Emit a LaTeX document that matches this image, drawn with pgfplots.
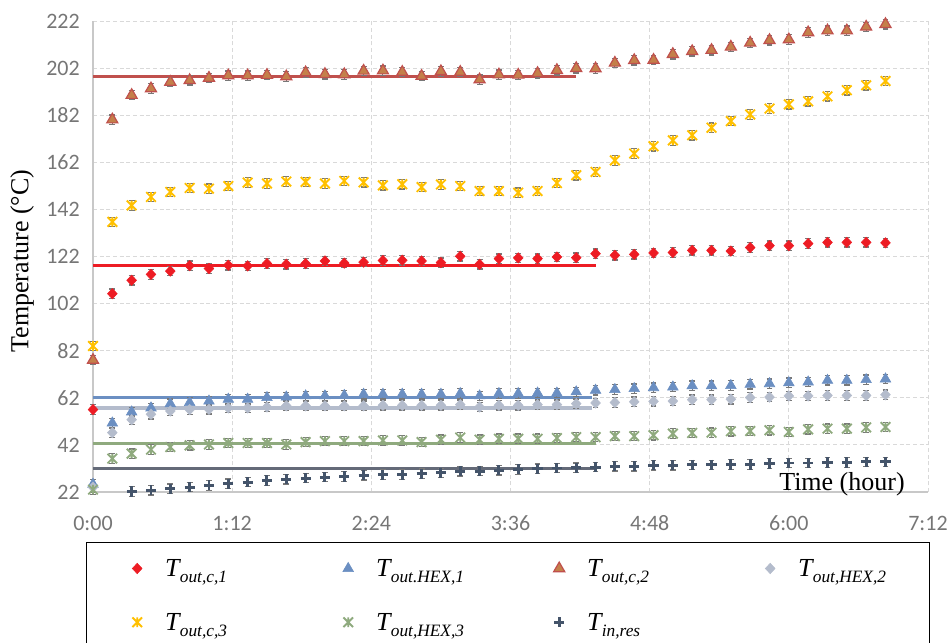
\documentclass[border=0pt]{standalone}
\usepackage{pgfplots}
\pgfplotsset{compat=1.18}
\usepackage{pgfplotstable}
\usepackage{fontspec}
\setmainfont{Liberation Serif}
\newfontfamily\carlito{Carlito}

\definecolor{cRed}{RGB}{237,28,36}
\definecolor{cBlue}{RGB}{107,143,194}
\definecolor{cBrownFill}{RGB}{196,128,74}
\definecolor{cBrownLine}{RGB}{192,80,77}
\definecolor{cGray}{RGB}{180,188,204}
\definecolor{cYellow}{RGB}{255,192,0}
\definecolor{cGreen}{RGB}{143,170,126}
\definecolor{cNavy}{RGB}{68,84,106}
\definecolor{cNavyLine}{RGB}{100,106,120}
\definecolor{gridgray}{RGB}{217,217,217}
\definecolor{axisgray}{RGB}{200,200,200}
\definecolor{tickgray}{RGB}{118,118,118}
\definecolor{ebgray}{RGB}{120,120,120}

\pgfdeclareplotmark{xstar}{%
  \pgfpathmoveto{\pgfqpoint{-\pgfplotmarksize}{-\pgfplotmarksize}}%
  \pgfpathlineto{\pgfqpoint{\pgfplotmarksize}{\pgfplotmarksize}}%
  \pgfpathmoveto{\pgfqpoint{-\pgfplotmarksize}{\pgfplotmarksize}}%
  \pgfpathlineto{\pgfqpoint{\pgfplotmarksize}{-\pgfplotmarksize}}%
  \pgfpathmoveto{\pgfqpoint{0pt}{-\pgfplotmarksize}}%
  \pgfpathlineto{\pgfqpoint{0pt}{\pgfplotmarksize}}%
  \pgfusepathqstroke}

\pgfplotstableread{
t   c1     hex1  c2     hex2  c3     hex3  inres
0   57.0   25.3  78.0   24.0  84.0   23.0  nan
10  106.2  51.3  180.1  47.2  136.7  36.2  nan
20  111.9  56.0  190.5  52.7  143.7  38.3  22.2
30  114.4  57.7  193.3  55.0  147.3  40.0  22.7
40  115.8  59.5  196.1  56.4  149.4  41.1  23.4
50  118.1  60.0  196.8  57.0  151.1  41.8  24.1
60  116.9  60.6  197.8  57.1  150.8  42.2  24.8
70  118.3  61.4  198.8  57.7  151.9  42.8  25.5
80  118.0  61.4  198.8  57.7  153.4  42.8  26.2
90  119.0  62.1  199.0  58.1  153.0  42.8  26.9
100 118.7  62.3  198.4  58.6  153.8  42.2  27.4
110 119.0  62.8  200.1  58.6  153.7  43.2  27.9
120 120.1  62.8  199.4  58.6  153.0  43.6  28.3
130 119.2  63.0  199.3  58.6  154.1  43.6  28.6
140 119.6  63.5  200.8  58.6  153.5  43.6  29.1
150 120.3  63.5  200.9  58.8  152.2  43.9  29.4
160 120.4  63.5  200.3  58.8  152.7  43.9  29.4
170 120.1  63.5  198.6  58.8  151.5  43.2  29.8
180 119.4  63.5  200.6  58.8  152.6  44.2  30.1
190 122.1  63.8  200.3  59.1  151.9  45.1  30.8
200 118.7  62.8  197.1  58.1  149.8  44.2  30.9
210 121.1  63.8  199.2  58.8  149.8  44.6  31.2
220 121.4  63.8  199.1  58.8  149.1  44.6  31.6
230 121.1  64.0  199.8  59.1  149.8  44.6  31.9
240 121.8  64.0  201.1  59.1  153.2  44.9  32.2
250 121.5  64.5  201.9  59.5  156.5  45.3  32.3
260 123.2  65.2  201.8  59.8  157.9  45.3  32.6
270 122.5  65.5  204.2  60.0  162.8  45.7  32.9
280 122.9  65.9  205.3  60.3  165.7  45.7  32.9
290 123.5  66.3  205.4  60.5  168.8  46.1  33.3
300 123.7  66.6  207.9  60.6  171.3  46.8  33.3
310 124.6  67.1  209.1  61.2  173.5  47.1  33.5
320 124.6  67.1  209.6  61.2  176.7  47.2  33.5
330 124.3  67.2  211.0  61.4  179.5  47.8  33.7
340 125.8  67.7  212.7  62.1  182.3  47.9  33.7
350 126.6  68.0  213.8  62.3  184.8  48.2  34.1
360 126.6  68.4  214.1  62.8  186.6  47.5  34.3
370 127.5  68.7  217.1  62.8  187.9  48.6  34.3
380 128.0  69.4  217.9  63.0  190.0  48.9  34.5
390 128.0  69.4  217.9  63.0  192.6  48.9  34.5
400 128.0  69.7  219.5  63.0  194.7  49.4  34.8
410 127.8  70.0  220.6  63.3  196.5  49.6  34.8
}\data

\pgfplotsset{
  eb/.style={error bars/.cd, y dir=both, y fixed=2,
    error bar style={color=ebgray, line width=0.7pt},
    error mark options={rotate=90, mark size=2.2pt, color=ebgray, line width=0.9pt}},
}

\newcommand{\LT}[2]{\makebox[#1][l]{\textit{T}\kern-1pt\raisebox{-4.5pt}{\fontsize{13}{13}\selectfont\textit{#2}}}}

\begin{document}
\begin{tikzpicture}
\useasboundingbox (0,0) rectangle (714pt,481.5pt);
\begin{axis}[
  at={(69.75pt,112.5pt)}, anchor=south west,
  scale only axis, width=626.25pt, height=353.25pt,
  xmin=0, xmax=432, ymin=22, ymax=222,
  xtick={0,72,...,432},
  xticklabels={0:00,1:12,2:24,3:36,4:48,6:00,7:12},
  ytick={22,42,...,222},
  axis x line*=bottom, axis y line*=left,
  axis line style={draw=axisgray, line width=1.2pt, -},
  major tick length=0pt,
  grid=major,
  grid style={draw=gridgray, dash pattern=on 3pt off 2pt, line width=0.7pt},
  ticklabel style={font=\carlito\fontsize{16.5}{18}\selectfont, text=tickgray},
  /pgf/number format/assume math mode=true,
  yticklabel style={anchor=east, inner sep=0pt, xshift=-9.75pt},
  xticklabel style={anchor=base, inner sep=0pt, yshift=-28.5pt},
  xlabel={Time (hour)},
  xlabel style={at={(axis description cs:0.897,0)}, anchor=base, inner sep=0pt, yshift=1pt, font=\fontsize{19.5}{22}\selectfont},
  ylabel={Temperature (°C)},
  ylabel style={at={(axis description cs:-0.085,0.49)}, anchor=center, inner sep=0pt, font=\fontsize{19.5}{22}\selectfont},
  clip=false,
  legend columns=4,
  legend image code/.code={\path[draw=none, fill=none] (-21pt,-14.6pt) rectangle (21pt,25.7pt); \draw[#1] plot coordinates {(0pt,6pt)};},
  legend style={at={(axis description cs:-0.00838,-0.1055)}, anchor=north west,
    draw=black, line width=0.8pt, fill=white,
    inner xsep=17pt, inner ysep=0pt,
    /tikz/column sep=0pt, /tikz/row sep=0pt,
    nodes={inner sep=0pt, anchor=base west},
    font=\fontsize{19.5}{22}\selectfont},
]
% average lines
\addplot[forget plot, no markers, color=cBrownLine, line width=2.4pt] coordinates {(0,198.5) (250,198.5)};
\addplot[forget plot, no markers, color=cRed, line width=2.4pt] coordinates {(0,118.3) (260,118.3)};
\addplot[forget plot, no markers, color=cBlue, line width=2.4pt] coordinates {(0,62.1) (258,62.1)};
\addplot[forget plot, no markers, color=cGray, line width=2.4pt] coordinates {(0,57.7) (258,57.7)};
\addplot[forget plot, no markers, color=cGreen, line width=2.4pt] coordinates {(0,42.5) (260,42.5)};
\addplot[forget plot, no markers, color=cNavyLine, line width=2.4pt] coordinates {(0,31.9) (260,31.9)};

\addplot[only marks, mark=diamond*, mark size=3.9pt,
  mark options={fill=cRed, draw=cRed, line width=0.4pt, xscale=1.25, solid}, eb]
  table[x=t, y=c1] {\data};
\addlegendentry{\LT{116.25pt}{out,c,1}}
\addplot[only marks, mark=triangle*, mark size=4.6pt,
  mark options={fill=cBlue, draw=cBlue, line width=0.4pt, solid}, eb]
  table[x=t, y=hex1] {\data};
\addlegendentry{\LT{116.25pt}{out.HEX,1}}
\addplot[only marks, mark=triangle*, mark size=4.8pt,
  mark options={fill=cBrownFill, draw=cBrownLine, line width=0.9pt, solid}, eb]
  table[x=t, y=c2] {\data};
\addlegendentry{\LT{116.25pt}{out,c,2}}
\addplot[only marks, mark=diamond*, mark size=3.9pt,
  mark options={fill=cGray, draw=cGray, line width=0.4pt, xscale=1.25, solid}, eb]
  table[x=t, y=hex2] {\data};
\addlegendentry{\LT{81.5pt}{out,HEX,2}}
\addplot[only marks, mark=xstar, mark size=3.6pt,
  mark options={draw=cYellow, line width=1.4pt, solid}, eb]
  table[x=t, y=c3] {\data};
\addlegendentry{\LT{116.25pt}{out,c,3}}
\addplot[only marks, mark=xstar, mark size=3.6pt,
  mark options={draw=cGreen, line width=1.4pt, solid}, eb]
  table[x=t, y=hex3] {\data};
\addlegendentry{\LT{116.25pt}{out,HEX,3}}
\addplot[only marks, mark=+, mark size=3.8pt,
  mark options={draw=cNavy, line width=2.2pt, solid}, eb]
  table[x=t, y=inres] {\data};
\addlegendentry{\LT{116.25pt}{in,res}}
\end{axis}
\end{tikzpicture}
\end{document}
